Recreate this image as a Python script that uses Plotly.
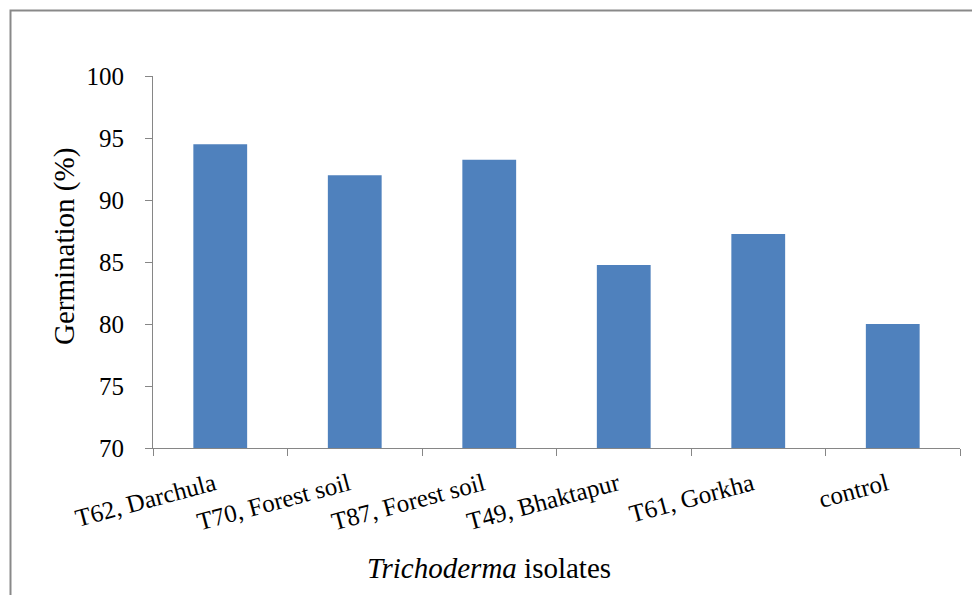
import plotly.graph_objects as go

# Seed germination for each Trichoderma isolate
isolates = ["T62, Darchula", "T70, Forest soil", "T87, Forest soil",
            "T49, Bhaktapur", "T61, Gorkha", "control"]
germination = [94.5, 92.0, 93.25, 84.75, 87.25, 80.0]
y_ticks = [70, 75, 80, 85, 90, 95, 100]

W, H = 972, 595
L, R, T, B = 153, 12, 76, 147
pw, ph = W - L - R, H - T - B

FONT = "Liberation Serif"
AXIS = "#868686"

fig = go.Figure(go.Bar(
    x=isolates, y=germination,
    marker=dict(color="#4F81BD", line=dict(width=0)),
    width=0.4,
))

fig.update_layout(
    width=W, height=H,
    margin=dict(l=L, r=R, t=T, b=B),
    paper_bgcolor="white", plot_bgcolor="white",
    font=dict(family=FONT, color="black", size=25),
    showlegend=False,
    bargap=0.6,
)

fig.update_yaxes(
    range=[70, 100], tickvals=y_ticks, ticktext=[str(v) for v in y_ticks],
    showgrid=False, zeroline=False,
    showline=True, linecolor=AXIS, linewidth=1,
    ticks="outside", ticklen=7, tickcolor=AXIS, tickwidth=1,
    ticklabelstandoff=16,
    tickfont=dict(family=FONT, size=25),
)
fig.update_xaxes(
    showgrid=False, zeroline=False,
    showline=True, linecolor=AXIS, linewidth=1,
    ticks="outside", ticklen=7, tickcolor=AXIS, tickwidth=1,
    tickson="boundaries", tickangle=-15,
    ticklabelstandoff=11, ticklabelshift=-6,
    tickfont=dict(family=FONT, size=25),
)

def px_x(p):
    return (p - L) / pw

def px_y(p):
    return (H - B - p) / ph

# Axis titles
fig.add_annotation(
    text="Germination (%)", textangle=-90,
    xref="paper", yref="paper", x=px_x(64), y=px_y(247),
    xanchor="center", yanchor="middle", showarrow=False,
    font=dict(family=FONT, size=29),
)
fig.add_annotation(
    text="<i>Trichoderma</i> isolates",
    xref="paper", yref="paper", x=px_x(489), y=px_y(568),
    xanchor="center", yanchor="middle", showarrow=False,
    font=dict(family=FONT, size=29),
)

# Chart frame
fig.add_shape(
    type="rect", xref="paper", yref="paper",
    x0=px_x(10.5), x1=px_x(1000), y0=px_y(640), y1=px_y(10.5),
    line=dict(color="#898989", width=2), fillcolor="rgba(0,0,0,0)",
    layer="below",
)

fig.write_html("out.html")
